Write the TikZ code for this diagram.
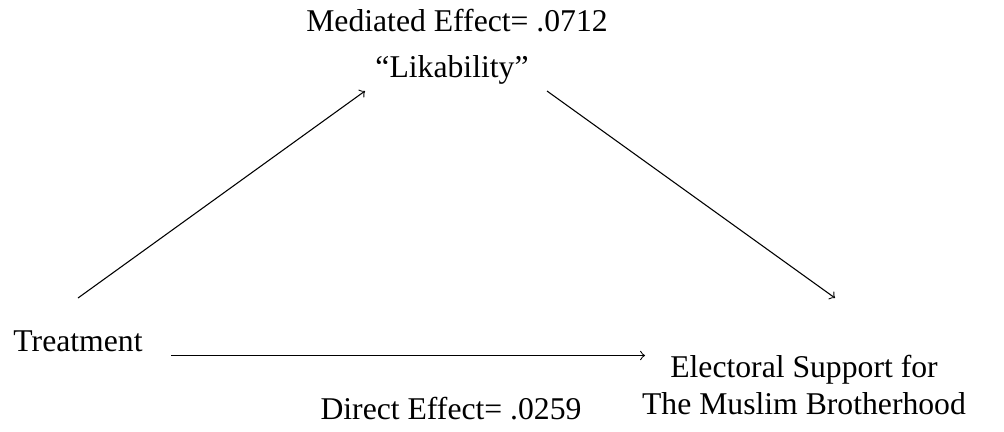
\documentclass[tikz,border=0pt]{standalone}
\usepackage{fontspec}
\setmainfont{Liberation Serif}
\usetikzlibrary{calc}
\begin{document}
\begin{tikzpicture}[x=0.3725pt,y=-0.3725pt,
  lbl/.style={inner sep=0pt,font=\fontsize{11.8}{13.8}\selectfont,align=center},
  conn/.style={->,line width=0.4pt}]
\useasboundingbox (0,0) rectangle (1004,431);
\node[lbl] (med) at (457,21) {Mediated Effect= .0712};
\node[lbl] (lik) at (452,70) {“Likability”};
\node[lbl] (treat) at (78,341) {Treatment};
\node[lbl] (elect) at (804,385) {Electoral Support for\\The Muslim Brotherhood};
\node[lbl] (dir) at (451,409) {Direct Effect= .0259};
\draw[conn] ($(treat.center)+(0,-43)$) -- ($(lik.center)+(-87,21)$);
\draw[conn] ($(lik.center)+(95,21)$) -- ($(elect.center)+(31,-87)$);
\draw[conn] ($(treat.center)+(93,14.5)$) -- ($(elect.center)+(-159,-29.5)$);
\end{tikzpicture}
\end{document}
